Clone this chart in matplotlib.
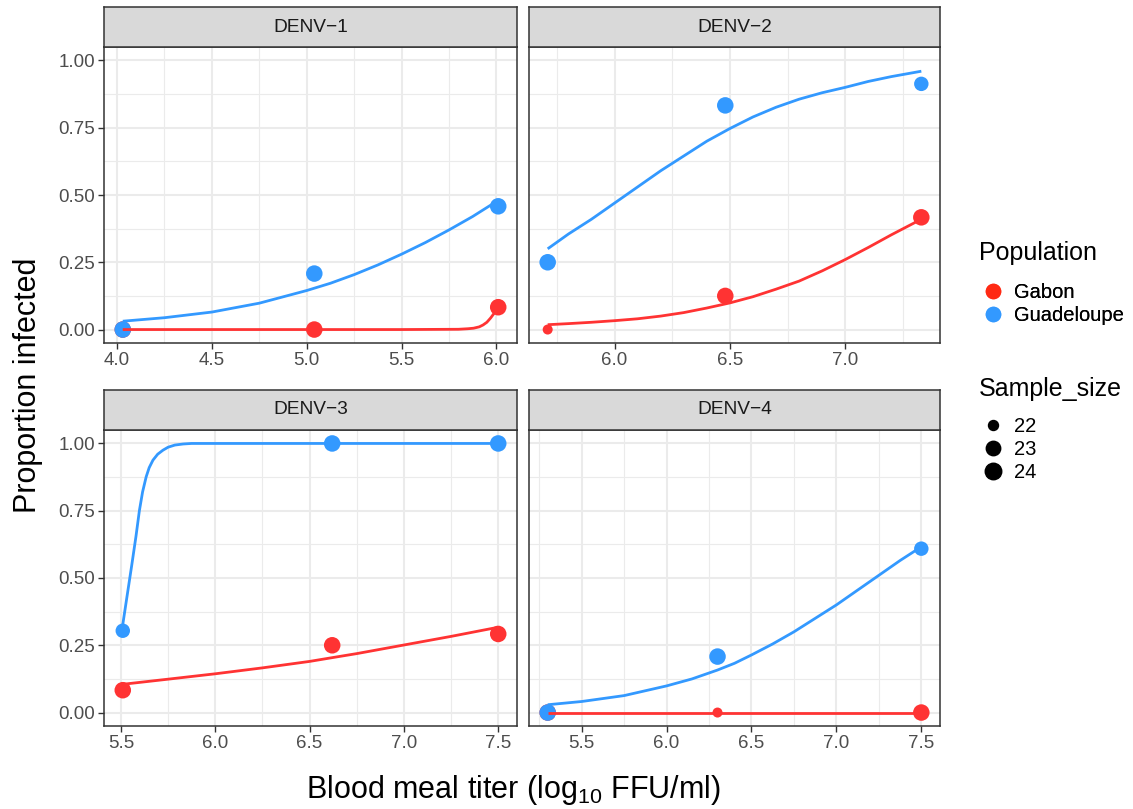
import matplotlib

matplotlib.use("Agg")
import matplotlib.pyplot as plt
from matplotlib.lines import Line2D
from matplotlib.ticker import MultipleLocator

plt.rcParams["font.family"] = ["Liberation Sans", "DejaVu Sans"]
plt.rcParams["mathtext.default"] = "regular"

# observed proportions per serotype (titer in log10 FFU/ml)
d1_titer = [4.03, 5.04, 6.01]
d1_gabon = [0.0, 0.0, 0.083]
d1_guad = [0.0, 0.208, 0.458]
d1_gabon_n = [24, 24, 24]
d1_guad_n = [24, 24, 24]

d2_titer = [5.71, 6.48, 7.33]
d2_gabon = [0.0, 0.125, 0.417]
d2_guad = [0.25, 0.833, 0.913]
d2_gabon_n = [22, 24, 24]
d2_guad_n = [24, 24, 23]

d3_titer = [5.51, 6.62, 7.50]
d3_gabon = [0.083, 0.25, 0.292]
d3_guad = [0.304, 1.0, 1.0]
d3_gabon_n = [24, 24, 24]
d3_guad_n = [23, 24, 24]

d4_titer = [5.30, 6.30, 7.50]
d4_gabon = [0.0, 0.0, 0.0]
d4_guad = [0.0, 0.208, 0.609]
d4_gabon_n = [24, 22, 24]
d4_guad_n = [24, 24, 23]

# fitted curves
d1_fit_gabon_x = [4.03, 5.0, 5.5, 5.8, 5.85, 5.88, 5.91, 5.93, 5.95, 5.97, 5.99, 6.01]
d1_fit_gabon_y = [0.0, 0.0, 0.0, 0.001, 0.003, 0.005, 0.010, 0.017, 0.027, 0.043, 0.062, 0.080]
d1_fit_guad_x = [4.03, 4.25, 4.5, 4.75, 5.0, 5.125, 5.25, 5.375, 5.5, 5.625, 5.75, 5.875, 6.01]
d1_fit_guad_y = [0.031, 0.044, 0.065, 0.098, 0.145, 0.172, 0.204, 0.24, 0.28, 0.323, 0.37, 0.42, 0.48]

d2_fit_gabon_x = [5.71, 5.8, 5.9, 6.0, 6.1, 6.2, 6.3, 6.4, 6.5, 6.6, 6.7, 6.8, 6.9, 7.0, 7.1, 7.2, 7.33]
d2_fit_gabon_y = [0.018, 0.022, 0.027, 0.033, 0.040, 0.050, 0.063, 0.080, 0.099, 0.122, 0.150,
                  0.18, 0.218, 0.26, 0.305, 0.352, 0.41]
d2_fit_guad_x = [5.71, 5.8, 5.9, 6.0, 6.1, 6.2, 6.3, 6.4, 6.5, 6.6, 6.7, 6.8, 6.9, 7.0, 7.1, 7.2, 7.33]
d2_fit_guad_y = [0.30, 0.355, 0.41, 0.47, 0.53, 0.59, 0.645, 0.70, 0.747, 0.79, 0.826, 0.856,
                 0.88, 0.90, 0.922, 0.94, 0.96]

d3_fit_gabon_x = [5.51, 5.75, 6.0, 6.25, 6.5, 6.62, 6.75, 7.0, 7.25, 7.5]
d3_fit_gabon_y = [0.105, 0.124, 0.144, 0.166, 0.19, 0.204, 0.219, 0.251, 0.283, 0.317]
d3_fit_guad_x = [5.51, 5.53, 5.557, 5.58, 5.598, 5.615, 5.634, 5.65, 5.67, 5.695, 5.723,
                 5.75, 5.786, 5.83, 5.875, 6.0, 7.5]
d3_fit_guad_y = [0.327, 0.42, 0.545, 0.655, 0.75, 0.82, 0.876, 0.91, 0.938, 0.96, 0.975,
                 0.986, 0.994, 0.998, 1.0, 1.0, 1.0]

d4_fit_gabon_x = [5.30, 7.50]
d4_fit_gabon_y = [0.0, 0.0]
d4_fit_guad_x = [5.3, 5.5, 5.75, 6.0, 6.15, 6.3, 6.4, 6.5, 6.625, 6.75, 6.875, 7.0, 7.125,
                 7.25, 7.375, 7.5]
d4_fit_guad_y = [0.029, 0.041, 0.063, 0.099, 0.125, 0.158, 0.183, 0.214, 0.255, 0.30, 0.35,
                 0.40, 0.455, 0.51, 0.565, 0.616]

serotypes = ["DENV-1", "DENV-2", "DENV-3", "DENV-4"]
populations = ["Gabon", "Guadeloupe"]
sample_sizes = [22, 23, 24]

RED = "#FF3333"
BLUE = "#3399FF"
size_pt = {22: 7.2, 23: 10.4, 24: 11.9}  # marker diameter in points

panels = [
    (d1_titer, d1_gabon, d1_guad, d1_gabon_n, d1_guad_n,
     d1_fit_gabon_x, d1_fit_gabon_y, d1_fit_guad_x, d1_fit_guad_y),
    (d2_titer, d2_gabon, d2_guad, d2_gabon_n, d2_guad_n,
     d2_fit_gabon_x, d2_fit_gabon_y, d2_fit_guad_x, d2_fit_guad_y),
    (d3_titer, d3_gabon, d3_guad, d3_gabon_n, d3_guad_n,
     d3_fit_gabon_x, d3_fit_gabon_y, d3_fit_guad_x, d3_fit_guad_y),
    (d4_titer, d4_gabon, d4_guad, d4_gabon_n, d4_guad_n,
     d4_fit_gabon_x, d4_fit_gabon_y, d4_fit_guad_x, d4_fit_guad_y),
]

W, H = 1133, 809
fig = plt.figure(figsize=(W / 100, H / 100), dpi=100)

col_x = [104 / W, 529 / W]
col_w = [413 / W, 411 / W]
row_y = [1 - 343 / H, 1 - 726 / H]
panel_h = 296 / H
strip_h = 40 / H

for i, (name, p) in enumerate(zip(serotypes, panels)):
    r, c = divmod(i, 2)
    titer, gab, gua, gab_n, gua_n, fgx, fgy, fux, fuy = p
    ax = fig.add_axes([col_x[c], row_y[r], col_w[c], panel_h])

    # points first, fitted lines on top (as in the original)
    ax.scatter(titer, gab, s=[size_pt[n] ** 2 for n in gab_n], color=RED, lw=0, zorder=3)
    ax.scatter(titer, gua, s=[size_pt[n] ** 2 for n in gua_n], color=BLUE, lw=0, zorder=3)
    ax.plot(fgx, fgy, color=RED, lw=2.0, zorder=4, solid_capstyle="butt", solid_joinstyle="round")
    ax.plot(fux, fuy, color=BLUE, lw=2.0, zorder=4, solid_capstyle="butt", solid_joinstyle="round")

    lo, hi = min(titer), max(titer)
    pad = 0.05 * (hi - lo)
    ax.set_xlim(lo - pad, hi + pad)
    ax.set_ylim(-0.05, 1.05)
    ax.xaxis.set_major_locator(MultipleLocator(0.5))
    ax.xaxis.set_minor_locator(MultipleLocator(0.25))
    ax.yaxis.set_major_locator(MultipleLocator(0.25))
    ax.yaxis.set_minor_locator(MultipleLocator(0.125))
    ax.xaxis.set_major_formatter(lambda v, pos: f"{v:.1f}")
    ax.yaxis.set_major_formatter(lambda v, pos: f"{v:.2f}")

    ax.grid(which="major", color="#EBEBEB", lw=1.5, zorder=0)
    ax.grid(which="minor", color="#EBEBEB", lw=0.8, zorder=0)
    ax.set_axisbelow(True)
    ax.tick_params(which="major", length=4, width=1.0, color="#333333",
                   labelsize=13.5, labelcolor="#4D4D4D", pad=2.5)
    ax.tick_params(which="minor", length=0)
    if c == 1:
        ax.tick_params(axis="y", which="major", length=0, labelleft=False)
    for sp in ax.spines.values():
        sp.set_color("#333333")
        sp.set_linewidth(1.1)

    # facet strip
    sax = fig.add_axes([col_x[c], row_y[r] + panel_h, col_w[c], strip_h])
    sax.set_facecolor("#D9D9D9")
    sax.set_xticks([])
    sax.set_yticks([])
    for sp in sax.spines.values():
        sp.set_color("#333333")
        sp.set_linewidth(1.1)
    sax.text(0.5, 0.5, name.replace("-", "\u2212"), ha="center", va="center",
             fontsize=13.8, color="#1A1A1A", transform=sax.transAxes)

fig.text(28 / W, 1 - 385 / H, "Proportion infected", rotation=90,
         ha="center", va="center", fontsize=22)
fig.text(513 / W, 1 - 790 / H, r"Blood meal titer (log$_{10}$ FFU/ml)",
         ha="center", va="center", fontsize=22)

# legends: titles as separate text, keys via fig.legend
fig.text(979 / W, 1 - 253 / H, "Population", ha="left", va="center", fontsize=18)
fig.text(979 / W, 1 - 389 / H, "Sample_size", ha="left", va="center", fontsize=18)

leg_kw = dict(loc="upper left", frameon=False, fontsize=14.5, handletextpad=0.45,
              labelspacing=0.2, handlelength=1.2, borderaxespad=0, borderpad=0)
pop_handles = [Line2D([], [], marker="o", ls="none", color=col, markersize=10.2)
               for col in ["#FF2A14", BLUE]]
leg1 = fig.legend(pop_handles, populations, bbox_to_anchor=(981 / W, 1 - 283 / H), **leg_kw)
size_handles = [Line2D([], [], marker="o", ls="none", color="black", markersize=size_pt[n])
                for n in sample_sizes]
leg2 = fig.legend(size_handles, [str(n) for n in sample_sizes],
                  bbox_to_anchor=(981 / W, 1 - 417 / H), **leg_kw)
fig.add_artist(leg1)

fig.savefig("out.png", dpi=100)
